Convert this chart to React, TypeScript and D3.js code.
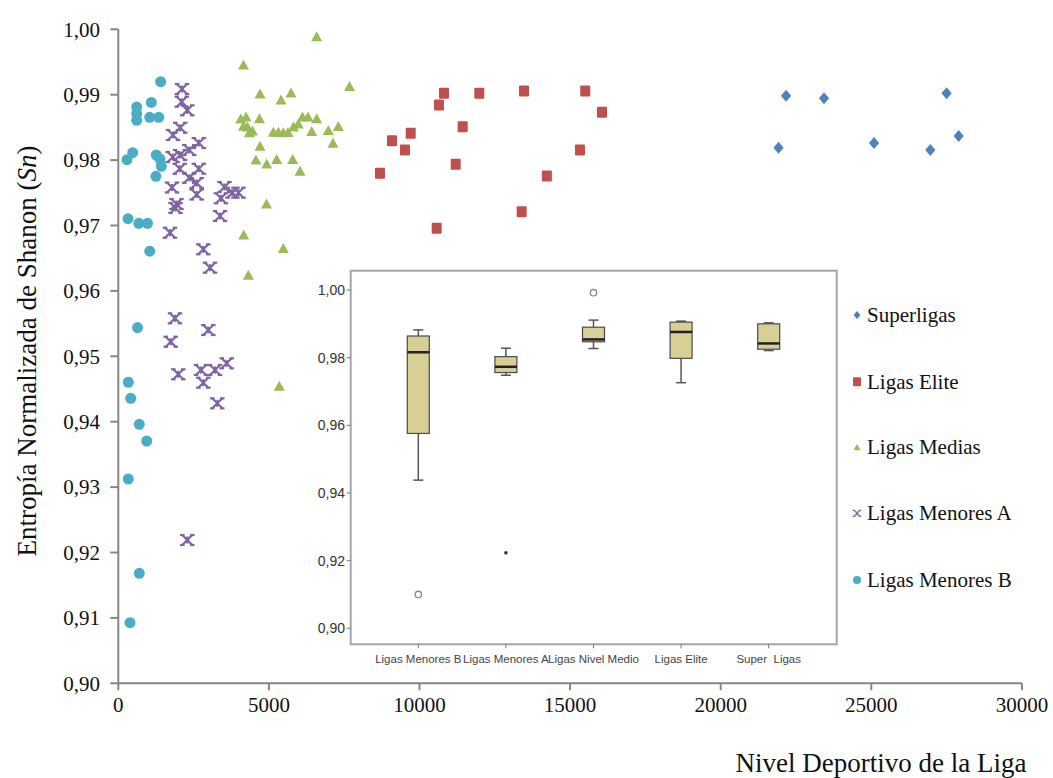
import React from "react";
import * as d3 from "d3";

// ---------- Scatter data: [Nivel Deportivo, Entropía Sn] ----------
const superligas: [number, number][] = [
  [21920, 0.9819], [22170, 0.98985], [23430, 0.98945], [25090, 0.98261],
  [26960, 0.98154], [27500, 0.99021], [27900, 0.98369],
];
const ligasElite: [number, number][] = [
  [10813, 0.99021], [10647, 0.98843], [11985, 0.99021], [13470, 0.99057],
  [15504, 0.99057], [16059, 0.98731], [11434, 0.98511], [9708, 0.9841],
  [9087, 0.98297], [9518, 0.98154], [15328, 0.98154], [11202, 0.97936],
  [8688, 0.97798], [14229, 0.97757], [13393, 0.97211], [10571, 0.96957],
];
const ligasMedias: [number, number][] = [
  [6586, 0.99878], [4157, 0.99446], [7676, 0.99118], [4705, 0.99003],
  [5734, 0.99018], [5402, 0.98911], [4064, 0.98621], [4240, 0.98651],
  [4688, 0.98624], [4157, 0.98511], [4290, 0.98498], [4455, 0.98437],
  [4350, 0.9841], [5146, 0.98419], [5312, 0.98419], [5478, 0.9841],
  [5634, 0.98414], [5816, 0.98498], [5976, 0.98544], [6115, 0.98651],
  [6298, 0.98651], [6587, 0.98624], [6421, 0.9843], [6972, 0.98445],
  [7304, 0.98506], [7128, 0.98251], [4705, 0.98205], [4570, 0.97994],
  [4927, 0.97933], [5259, 0.98001], [5790, 0.98001], [6033, 0.97823],
  [4921, 0.97321], [4163, 0.96847], [5478, 0.96641], [4316, 0.96232],
  [5345, 0.94535],
];
const ligasMenoresA: [number, number][] = [
  [2115, 0.99087], [2105, 0.98893], [2291, 0.98761], [2055, 0.98494],
  [1816, 0.98384], [2673, 0.98261], [2357, 0.98154], [2049, 0.98078],
  [1806, 0.98047], [2039, 0.97867], [2673, 0.97867], [2357, 0.97729],
  [2603, 0.9765], [1783, 0.97581], [2603, 0.97474], [3525, 0.97589],
  [3409, 0.97416], [3791, 0.97502], [3990, 0.97502], [1932, 0.97329],
  [1899, 0.97268], [3377, 0.97145], [1717, 0.9689], [2822, 0.96636],
  [3045, 0.96355], [1882, 0.95581], [2988, 0.95402], [1740, 0.95223],
  [3599, 0.94893], [1992, 0.94725], [2746, 0.94791], [2822, 0.94596],
  [3211, 0.94791], [3287, 0.94281], [2291, 0.92191],
];
const ligasMenoresB: [number, number][] = [
  [1405, 0.99199], [1096, 0.98881], [611, 0.98812], [611, 0.98709],
  [611, 0.98609], [1043, 0.98654], [1345, 0.98654], [478, 0.98113],
  [289, 0.98006], [1262, 0.98078], [1384, 0.98017], [1428, 0.97905],
  [1249, 0.97752], [322, 0.97104], [681, 0.97034], [970, 0.97034],
  [1043, 0.96607], [638, 0.9544], [332, 0.94603], [412, 0.94358],
  [697, 0.9396], [943, 0.93705], [332, 0.93124], [697, 0.91682],
  [388, 0.90927],
];

const xTicks = [0, 5000, 10000, 15000, 20000, 25000, 30000];
const yTicks = [0.9, 0.91, 0.92, 0.93, 0.94, 0.95, 0.96, 0.97, 0.98, 0.99, 1.0];

const legendNames = ["Superligas", "Ligas Elite", "Ligas Medias", "Ligas Menores A", "Ligas Menores B"];

// ---------- Inset boxplot data ----------
const boxCategories = ["Ligas Menores B", "Ligas Menores A", "Ligas Nivel Medio", "Ligas Elite", "Super  Ligas"];
const boxWhiskerLow = [0.9438, 0.9748, 0.9827, 0.9726, 0.9821];
const boxQ1 = [0.9576, 0.9756, 0.9847, 0.9798, 0.9825];
const boxMedian = [0.9816, 0.9773, 0.9854, 0.9876, 0.9842];
const boxQ3 = [0.9864, 0.9803, 0.989, 0.9905, 0.99];
const boxWhiskerHigh = [0.9882, 0.9828, 0.9911, 0.9908, 0.9903];
const boxOutliers: { cat: number; value: number; kind: "circle" | "star" }[] = [
  { cat: 0, value: 0.91, kind: "circle" },
  { cat: 1, value: 0.9223, kind: "star" },
  { cat: 2, value: 0.9992, kind: "circle" },
];
const insetTicks = [0.9, 0.92, 0.94, 0.96, 0.98, 1.0];

const COL = {
  super: "#4F81BD",
  elite: "#C0504D",
  medias: "#9BBB59",
  menA: "#8064A2",
  menB: "#4BACC6",
};

const SERIF = "'Liberation Serif', 'Times New Roman', serif";
const SANS = "'Liberation Sans', Arial, sans-serif";

const fmt2 = (v: number) => v.toFixed(2).replace(".", ",");

function Diamond({ cx, cy, r, fill }: { cx: number; cy: number; r: number; fill: string }) {
  return <path d={`M${cx},${cy - r}L${cx + r * 0.85},${cy}L${cx},${cy + r}L${cx - r * 0.85},${cy}Z`} fill={fill} />;
}
function Square({ cx, cy, w, h, fill }: { cx: number; cy: number; w: number; h: number; fill: string }) {
  return <rect x={cx - w / 2} y={cy - h / 2} width={w} height={h} fill={fill} rx={1} />;
}
function Triangle({ cx, cy, s, fill }: { cx: number; cy: number; s: number; fill: string }) {
  const h = s * 0.9;
  return <path d={`M${cx},${cy - h * 0.6}L${cx + s / 2},${cy + h * 0.4}L${cx - s / 2},${cy + h * 0.4}Z`} fill={fill} />;
}
function Star({ cx, cy, s, stroke, sw }: { cx: number; cy: number; s: number; stroke: string; sw: number }) {
  const r = s / 2;
  const c = r * 0.45;
  return (
    <g stroke={stroke} strokeWidth={sw} fill="none">
      <line x1={cx - r} y1={cy - r} x2={cx + r} y2={cy + r} />
      <line x1={cx - r} y1={cy + r} x2={cx + r} y2={cy - r} />
      <line x1={cx} y1={cy - r * 0.7} x2={cx} y2={cy + r * 0.7} />
      <line x1={cx - r - c} y1={cy - r} x2={cx - r + c} y2={cy - r} />
      <line x1={cx + r - c} y1={cy - r} x2={cx + r + c} y2={cy - r} />
      <line x1={cx - r - c} y1={cy + r} x2={cx - r + c} y2={cy + r} />
      <line x1={cx + r - c} y1={cy + r} x2={cx + r + c} y2={cy + r} />
    </g>
  );
}

export default function App() {
  const W = 1053;
  const H = 778;
  const x = d3.scaleLinear().domain([0, 30000]).range([118.3, 1021.9]);
  const y = d3.scaleLinear().domain([0.9, 1.0]).range([683.3, 29.3]);

  const inset = { left: 350.7, top: 270.7, right: 836.7, bottom: 644.3 };
  const xi = d3.scalePoint<string>().domain(boxCategories).range([418.3, 768.7]);
  const yi = d3.scaleLinear().domain([0.9, 1.0]).range([628.3, 290]);
  const boxW = 22;

  const axisCol = "#868686";

  return (
    <svg width={W} height={H} style={{ position: "absolute", left: 0, top: 0, background: "#fff" }}>
      <rect x={0} y={0} width={W} height={H} fill="#fff" />
      {/* Main axes */}
      <line x1={x(0)} y1={y(1.0)} x2={x(0)} y2={y(0.9)} stroke={axisCol} strokeWidth={2} />
      <line x1={x(0)} y1={y(0.9)} x2={x(30000)} y2={y(0.9)} stroke={axisCol} strokeWidth={2} />
      {yTicks.map((t) => (
        <g key={"yt" + t}>
          <line x1={x(0) - 8} x2={x(0)} y1={y(t)} y2={y(t)} stroke={axisCol} strokeWidth={2} />
          <text x={100} y={y(t)} dy="0.35em" textAnchor="end" fontFamily={SERIF} fontSize={21} fill="#111">
            {fmt2(t)}
          </text>
        </g>
      ))}
      {xTicks.map((t) => (
        <g key={"xt" + t}>
          <line x1={x(t)} x2={x(t)} y1={y(0.9)} y2={y(0.9) + 7} stroke={axisCol} strokeWidth={2} />
          <text x={x(t)} y={712} textAnchor="middle" fontFamily={SERIF} fontSize={21} fill="#111">
            {t}
          </text>
        </g>
      ))}
      {/* Axis titles */}
      <text
        transform={`translate(36, 351) rotate(-90)`}
        textAnchor="middle"
        fontFamily={SERIF}
        fontSize={27}
        fill="#111"
      >
        Entropía Normalizada de Shanon (<tspan fontStyle="italic">Sn</tspan>)
      </text>
      <text x={881} y={772} textAnchor="middle" fontFamily={SERIF} fontSize={27} fill="#111">
        Nivel Deportivo de la Liga
      </text>

      {/* Scatter series */}
      {ligasMenoresB.map(([a, b], i) => (
        <circle key={"mb" + i} cx={x(a)} cy={y(b)} r={5.5} fill={COL.menB} />
      ))}
      {ligasMenoresA.map(([a, b], i) => (
        <Star key={"ma" + i} cx={x(a)} cy={y(b)} s={10} stroke={COL.menA} sw={2.2} />
      ))}
      {ligasMedias.map(([a, b], i) => (
        <Triangle key={"md" + i} cx={x(a)} cy={y(b)} s={11} fill={COL.medias} />
      ))}
      {ligasElite.map(([a, b], i) => (
        <Square key={"el" + i} cx={x(a)} cy={y(b)} w={10} h={11} fill={COL.elite} />
      ))}
      {superligas.map(([a, b], i) => (
        <Diamond key={"su" + i} cx={x(a)} cy={y(b)} r={6} fill={COL.super} />
      ))}

      {/* Inset */}
      <rect
        x={inset.left}
        y={inset.top}
        width={inset.right - inset.left}
        height={inset.bottom - inset.top}
        fill="#fff"
        stroke="#a6a6a6"
        strokeWidth={2}
      />
      {insetTicks.map((t) => (
        <g key={"it" + t}>
          <line x1={inset.left - 4} x2={inset.left} y1={yi(t)} y2={yi(t)} stroke="#777" strokeWidth={1} />
          <text x={345} y={yi(t)} dy="0.35em" textAnchor="end" fontFamily={SANS} fontSize={14} fill="#333">
            {fmt2(t)}
          </text>
        </g>
      ))}
      {boxCategories.map((c, i) => {
        const cx = xi(c)!;
        return (
          <g key={"bx" + c}>
            <line x1={cx} x2={cx} y1={inset.bottom} y2={inset.bottom + 4} stroke="#777" strokeWidth={1} />
            <text
              x={cx}
              y={663}
              textAnchor="middle"
              fontFamily={SANS}
              fontSize={11.5}
              fill="#444"
              style={{ whiteSpace: "pre" }}
            >
              {c}
            </text>
            {/* whiskers */}
            <line x1={cx} x2={cx} y1={yi(boxWhiskerLow[i])} y2={yi(boxQ1[i])} stroke="#555" strokeWidth={1.5} />
            <line x1={cx} x2={cx} y1={yi(boxQ3[i])} y2={yi(boxWhiskerHigh[i])} stroke="#555" strokeWidth={1.5} />
            <line x1={cx - 5} x2={cx + 5} y1={yi(boxWhiskerLow[i])} y2={yi(boxWhiskerLow[i])} stroke="#555" strokeWidth={1.5} />
            <line x1={cx - 5} x2={cx + 5} y1={yi(boxWhiskerHigh[i])} y2={yi(boxWhiskerHigh[i])} stroke="#555" strokeWidth={1.5} />
            <rect
              x={cx - boxW / 2}
              y={yi(boxQ3[i])}
              width={boxW}
              height={yi(boxQ1[i]) - yi(boxQ3[i])}
              fill="#D8CF96"
              stroke="#4a4a4a"
              strokeWidth={1.2}
            />
            <line
              x1={cx - boxW / 2}
              x2={cx + boxW / 2}
              y1={yi(boxMedian[i])}
              y2={yi(boxMedian[i])}
              stroke="#222"
              strokeWidth={2.5}
            />
          </g>
        );
      })}
      {boxOutliers.map((o, i) => {
        const cx = xi(boxCategories[o.cat])!;
        return o.kind === "circle" ? (
          <circle key={"ol" + i} cx={cx} cy={yi(o.value)} r={3.2} fill="#fff" stroke="#888" strokeWidth={1.3} />
        ) : (
          <circle key={"ol" + i} cx={cx} cy={yi(o.value)} r={1.8} fill="#333" />
        );
      })}

      {/* Legend */}
      {legendNames.map((n, i) => {
        const ly = [315, 381.7, 446.7, 513.3, 580][i];
        const lx = 857;
        let mk: React.ReactNode = null;
        if (i === 0) mk = <Diamond cx={lx} cy={ly} r={4} fill={COL.super} />;
        if (i === 1) mk = <Square cx={lx} cy={ly} w={8} h={9} fill={COL.elite} />;
        if (i === 2) mk = <Triangle cx={lx} cy={ly + 1} s={7} fill={COL.medias} />;
        if (i === 3) mk = <Star cx={lx} cy={ly} s={6} stroke={COL.menA} sw={1.2} />;
        if (i === 4) mk = <circle cx={lx} cy={ly} r={4} fill={COL.menB} />;
        return (
          <g key={"lg" + i}>
            {mk}
            <text x={867} y={ly} dy="0.33em" fontFamily={SERIF} fontSize={21} fill="#111">
              {n}
            </text>
          </g>
        );
      })}
    </svg>
  );
}
